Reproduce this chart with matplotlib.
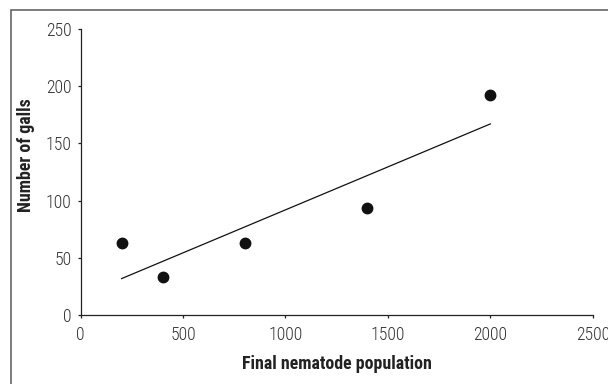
import matplotlib
matplotlib.use("Agg")
import matplotlib.pyplot as plt
from matplotlib.patches import Rectangle

plt.rcParams['font.family'] = ['Roboto Condensed', 'DejaVu Sans']

# data
population = [200, 400, 800, 1400, 2000]
galls = [63, 33, 63, 94, 192]
trend_x = [200, 2000]
trend_y = [32, 167]
x_ticks = [0, 500, 1000, 1500, 2000, 2500]
y_ticks = [0, 50, 100, 150, 200, 250]

fig = plt.figure(figsize=(6.08, 3.84), dpi=100)
ax = fig.add_axes([0.1326, 0.179, 0.8424, 0.746])

ax.plot(trend_x, trend_y, color='#111111', lw=0.9)
ax.plot(population, galls, 'o', color='#111111', ms=7.5, mec='#111111')

ax.set_xlim(0, 2500)
ax.set_ylim(0, 250)
ax.set_xticks(x_ticks)
ax.set_yticks(y_ticks)
for s in ['top', 'right']:
    ax.spines[s].set_visible(False)
for s in ['left', 'bottom']:
    ax.spines[s].set_linewidth(0.9)
    ax.spines[s].set_color('#222222')
ax.tick_params(direction='out', length=2.5, width=0.9, color='#222222',
               labelsize=12.8, labelcolor='#333333')
ax.tick_params(axis='x', pad=5)
ax.tick_params(axis='y', pad=4)
for lab in ax.get_xticklabels() + ax.get_yticklabels():
    lab.set_fontweight(300)

ax.set_xlabel('Final nematode population', fontsize=12.9, fontweight='bold', color='#222222')
ax.set_ylabel('Number of galls', fontsize=12.9, fontweight='bold', color='#222222')
ax.xaxis.set_label_coords(0.5, -0.139)
ax.yaxis.set_label_coords(-0.089, 0.559)

# outer frame (partially cropped)
fig.patches.append(Rectangle((10.5/608, -0.1), 1.2, 1 - 10.5/384 + 0.1,
                             transform=fig.transFigure, fill=False,
                             edgecolor='#666666', lw=1.2, clip_on=False))

fig.savefig('out.png', dpi=100)
